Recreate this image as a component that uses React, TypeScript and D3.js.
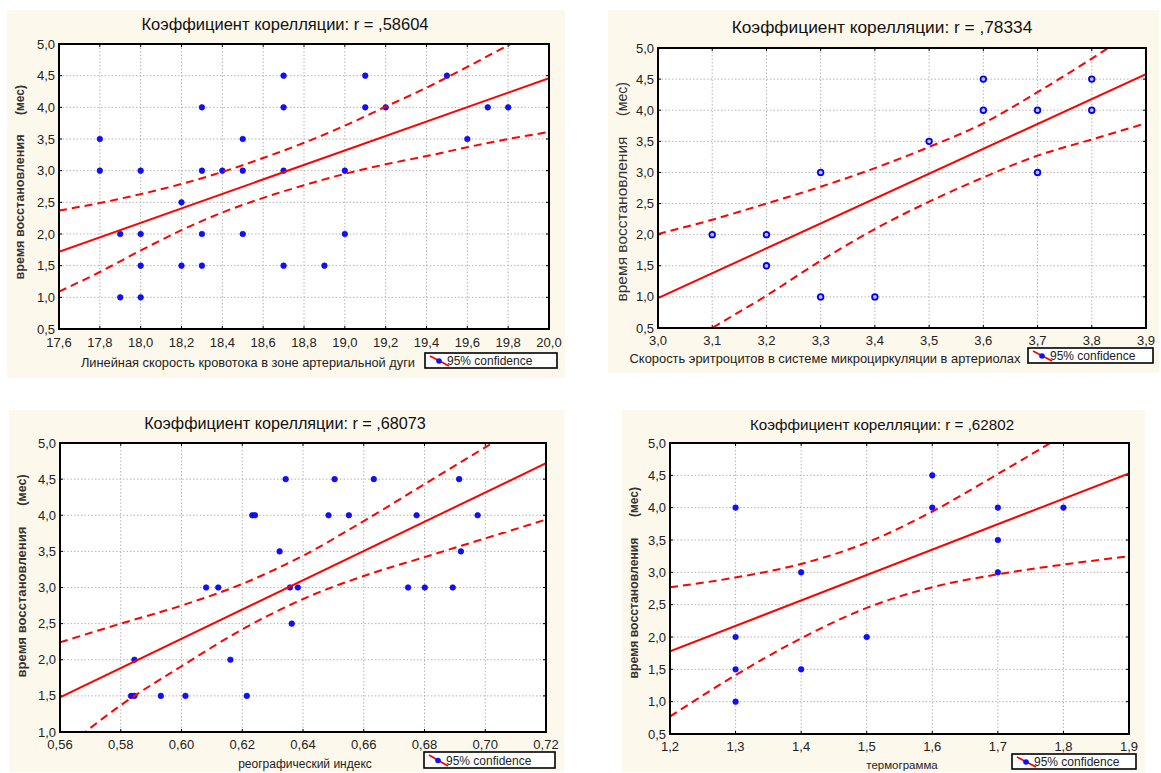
import { useEffect, useRef } from 'react';
import * as d3 from 'd3';

const yLabel = 'время восстановления';
const yUnit = '(мес)';
const legendText = '95% confidence';

// panel 1
const p1Title = 'Коэффициент корелляции: r = ,58604';
const p1XLabel = 'Линейная скорость кровотока в зоне артериальной дуги';
const p1XTicks = [17.6, 17.8, 18.0, 18.2, 18.4, 18.6, 18.8, 19.0, 19.2, 19.4, 19.6, 19.8, 20.0];
const p1YTicks = [0.5, 1.0, 1.5, 2.0, 2.5, 3.0, 3.5, 4.0, 4.5, 5.0];
const p1X = [17.8, 17.8, 17.9, 17.9, 18.0, 18.0, 18.0, 18.0, 18.2, 18.2, 18.3, 18.3, 18.3, 18.3, 18.4, 18.5,
  18.5, 18.5, 18.7, 18.7, 18.7, 18.7, 18.9, 19.0, 19.0, 19.1, 19.1, 19.2, 19.5, 19.6, 19.7, 19.8];
const p1Y = [3.5, 3.0, 2.0, 1.0, 3.0, 2.0, 1.5, 1.0, 2.5, 1.5, 4.0, 3.0, 2.0, 1.5, 3.0, 3.5,
  3.0, 2.0, 4.5, 4.0, 3.0, 1.5, 1.5, 3.0, 2.0, 4.5, 4.0, 4.0, 4.5, 3.5, 4.0, 4.0];
const p1Fit = [1.72, 4.46];
const p1Upper = [2.37, 2.49, 2.63, 2.79, 2.98, 3.20, 3.44, 3.71, 4.01, 4.31, 4.64, 4.98, 5.32];
const p1Lower = [1.09, 1.40, 1.74, 2.06, 2.34, 2.57, 2.77, 2.95, 3.10, 3.23, 3.37, 3.50, 3.61];

// panel 2
const p2Title = 'Коэффициент корелляции: r = ,78334';
const p2XLabel = 'Скорость эритроцитов в системе микроциркуляции в артериолах';
const p2XTicks = [3.0, 3.1, 3.2, 3.3, 3.4, 3.5, 3.6, 3.7, 3.8, 3.9];
const p2YTicks = [0.5, 1.0, 1.5, 2.0, 2.5, 3.0, 3.5, 4.0, 4.5, 5.0];
const p2X = [3.1, 3.2, 3.2, 3.3, 3.3, 3.4, 3.5, 3.6, 3.6, 3.7, 3.7, 3.8, 3.8];
const p2Y = [2.0, 2.0, 1.5, 3.0, 1.0, 1.0, 3.5, 4.5, 4.0, 4.0, 3.0, 4.5, 4.0];
const p2Fit = [0.98, 4.58];
const p2Upper = [2.01, 2.24, 2.50, 2.77, 3.07, 3.41, 3.79, 4.29, 4.83, 5.40];
const p2Lower = [-0.05, 0.50, 1.02, 1.58, 2.09, 2.53, 2.92, 3.27, 3.53, 3.79];

// panel 3
const p3Title = 'Коэффициент корелляции: r = ,68073';
const p3XLabel = 'реографический индекс';
const p3XTicks = [0.56, 0.58, 0.60, 0.62, 0.64, 0.66, 0.68, 0.70, 0.72];
const p3YTicks = [1.0, 1.5, 2.0, 2.5, 3.0, 3.5, 4.0, 4.5, 5.0];
const p3X = [0.5834, 0.5845, 0.5845, 0.5932, 0.6013, 0.6081, 0.6121, 0.6161, 0.6215, 0.6233, 0.6242, 0.6323,
  0.6343, 0.6357, 0.6363, 0.6383, 0.6484, 0.6504, 0.6551, 0.6633, 0.6746, 0.6774, 0.6801, 0.6893,
  0.6914, 0.6920, 0.6975];
const p3Y = [1.5, 1.5, 2.0, 1.5, 1.5, 3.0, 3.0, 2.0, 1.5, 4.0, 4.0, 3.5,
  4.5, 3.0, 2.5, 3.0, 4.0, 4.5, 4.0, 4.5, 3.0, 4.0, 3.0, 3.0,
  4.5, 3.5, 4.0];
const p3Fit = [1.48, 4.72];
const p3Upper = [2.24, 2.50, 2.75, 3.05, 3.44, 3.92, 4.43, 4.94, 5.45];
const p3Lower = [0.72, 1.37, 1.91, 2.42, 2.84, 3.16, 3.42, 3.68, 3.94];

// panel 4
const p4Title = 'Коэффициент корелляции: r = ,62802';
const p4XLabel = 'термограмма';
const p4XTicks = [1.2, 1.3, 1.4, 1.5, 1.6, 1.7, 1.8, 1.9];
const p4YTicks = [0.5, 1.0, 1.5, 2.0, 2.5, 3.0, 3.5, 4.0, 4.5, 5.0];
const p4X = [1.3, 1.3, 1.3, 1.3, 1.4, 1.4, 1.5, 1.6, 1.6, 1.7, 1.7, 1.7, 1.8];
const p4Y = [4.0, 2.0, 1.5, 1.0, 3.0, 1.5, 2.0, 4.5, 4.0, 4.0, 3.5, 3.0, 4.0];
const p4Fit = [1.78, 4.53];
const p4Upper = [2.77, 2.92, 3.13, 3.46, 3.94, 4.52, 5.12, 5.72];
const p4Lower = [0.77, 1.41, 1.98, 2.45, 2.77, 2.97, 3.12, 3.25];

const FONT = '"Liberation Sans", Arial, sans-serif';

const panels = [
  {
    id: 'p1', title: p1Title, xLabel: p1XLabel, xTicks: p1XTicks, yTicks: p1YTicks, xs: p1X, ys: p1Y,
    fit: p1Fit, upper: p1Upper, lower: p1Lower, xDigits: 1, ring: false,
    bg: [7, 10, 565, 378], frame: [59, 44, 549, 329],
    titleX: 285, titleY: 30, titleSize: 16.5,
    xLabX: 248, xLabY: 367, xLabSize: 12.8, tickOff: 18,
    yLabX: 20, yLabMid: 207, yLabLen: 145, yUnitMid: 100, yLabSize: 12, yLabBold: true,
    legend: [425, 353, 557, 368],
  },
  {
    id: 'p2', title: p2Title, xLabel: p2XLabel, xTicks: p2XTicks, yTicks: p2YTicks, xs: p2X, ys: p2Y,
    fit: p2Fit, upper: p2Upper, lower: p2Lower, xDigits: 1, ring: true,
    bg: [608, 10, 1159, 373], frame: [658, 48, 1146, 328],
    titleX: 882, titleY: 33, titleSize: 17.3,
    xLabX: 825, xLabY: 363, xLabSize: 12.9, tickOff: 17,
    yLabX: 622, yLabMid: 219, yLabLen: 165, yUnitMid: 99, yLabSize: 14, yLabBold: false,
    legend: [1028, 348, 1153, 363],
  },
  {
    id: 'p3', title: p3Title, xLabel: p3XLabel, xTicks: p3XTicks, yTicks: p3YTicks, xs: p3X, ys: p3Y,
    fit: p3Fit, upper: p3Upper, lower: p3Lower, xDigits: 2, ring: false,
    bg: [9, 410, 564, 772], frame: [60, 443, 546, 732],
    titleX: 285, titleY: 429, titleSize: 16.2,
    xLabX: 305, xLabY: 768, xLabSize: 12, tickOff: 17,
    yLabX: 22, yLabMid: 602, yLabLen: 151, yUnitMid: 490, yLabSize: 12.5, yLabBold: true,
    legend: [424, 752, 555, 768],
  },
  {
    id: 'p4', title: p4Title, xLabel: p4XLabel, xTicks: p4XTicks, yTicks: p4YTicks, xs: p4X, ys: p4Y,
    fit: p4Fit, upper: p4Upper, lower: p4Lower, xDigits: 1, ring: false,
    bg: [622, 410, 1145, 772], frame: [670, 443, 1129, 734],
    titleX: 882, titleY: 430, titleSize: 15.2,
    xLabX: 902, xLabY: 769, xLabSize: 11.5, tickOff: 17,
    yLabX: 634, yLabMid: 608, yLabLen: 141, yUnitMid: 502, yLabSize: 12, yLabBold: true,
    legend: [1012, 754, 1136, 769],
  },
];

function drawPanel(svg: any, c: any) {
  const g = svg.append('g');
  const [fx0, fy0, fx1, fy1] = c.frame;
  const fmtX = (v: number) => d3.format(`.${c.xDigits}f`)(v).replace('.', ',');
  const fmtY = (v: number) => d3.format('.1f')(v).replace('.', ',');

  g.append('rect')
    .attr('x', c.bg[0]).attr('y', c.bg[1])
    .attr('width', c.bg[2] - c.bg[0]).attr('height', c.bg[3] - c.bg[1])
    .attr('fill', '#fdf8ec');

  const x = d3.scaleLinear().domain(d3.extent(c.xTicks) as [number, number]).range([fx0, fx1]);
  const y = d3.scaleLinear().domain(d3.extent(c.yTicks) as [number, number]).range([fy1, fy0]);

  g.append('rect')
    .attr('x', fx0).attr('y', fy0).attr('width', fx1 - fx0).attr('height', fy1 - fy0)
    .attr('fill', '#fff');

  // grid
  const inner = (arr: number[]) => arr.slice(1, -1);
  g.selectAll('.gx').data(inner(c.xTicks)).enter().append('line')
    .attr('x1', (d: number) => x(d)).attr('x2', (d: number) => x(d))
    .attr('y1', fy0).attr('y2', fy1)
    .attr('stroke', '#b4b4b4').attr('stroke-dasharray', '1.5,2');
  g.selectAll('.gy').data(inner(c.yTicks)).enter().append('line')
    .attr('y1', (d: number) => y(d)).attr('y2', (d: number) => y(d))
    .attr('x1', fx0).attr('x2', fx1)
    .attr('stroke', '#b4b4b4').attr('stroke-dasharray', '1.5,2');

  // inner tick marks
  const tk = 3;
  c.xTicks.forEach((t: number) => {
    g.append('line').attr('x1', x(t)).attr('x2', x(t)).attr('y1', fy1).attr('y2', fy1 - tk).attr('stroke', '#000');
    g.append('line').attr('x1', x(t)).attr('x2', x(t)).attr('y1', fy0).attr('y2', fy0 + tk).attr('stroke', '#000');
  });
  c.yTicks.forEach((t: number) => {
    g.append('line').attr('y1', y(t)).attr('y2', y(t)).attr('x1', fx0).attr('x2', fx0 + tk).attr('stroke', '#000');
    g.append('line').attr('y1', y(t)).attr('y2', y(t)).attr('x1', fx1).attr('x2', fx1 - tk).attr('stroke', '#000');
  });

  // clip
  const clipId = `clip-${c.id}`;
  g.append('clipPath').attr('id', clipId).append('rect')
    .attr('x', fx0).attr('y', fy0).attr('width', fx1 - fx0).attr('height', fy1 - fy0);
  const plot = g.append('g').attr('clip-path', `url(#${clipId})`);

  // points
  const pts = c.xs.map((v: number, i: number) => [v, c.ys[i]]);
  plot.selectAll('circle').data(pts).enter().append('circle')
    .attr('cx', (d: number[]) => x(d[0])).attr('cy', (d: number[]) => y(d[1]))
    .attr('r', 2.8)
    .attr('fill', c.ring ? '#b8bcff' : '#1010ff')
    .attr('stroke', '#0000ee').attr('stroke-width', c.ring ? 1.8 : 0.6);

  // confidence bands
  const line = d3.line<number>()
    .x((_d, i) => x(c.xTicks[i]))
    .y((d) => y(d))
    .curve(d3.curveMonotoneX);
  [c.upper, c.lower].forEach((band: number[]) => {
    plot.append('path').attr('d', line(band))
      .attr('fill', 'none').attr('stroke', '#ff0000').attr('stroke-width', 2)
      .attr('stroke-dasharray', '8,5');
  });

  // fit line
  const xd = x.domain();
  plot.append('line')
    .attr('x1', x(xd[0])).attr('y1', y(c.fit[0]))
    .attr('x2', x(xd[1])).attr('y2', y(c.fit[1]))
    .attr('stroke', '#ff0000').attr('stroke-width', 2);

  // frame
  g.append('rect')
    .attr('x', fx0).attr('y', fy0).attr('width', fx1 - fx0).attr('height', fy1 - fy0)
    .attr('fill', 'none').attr('stroke', '#000').attr('stroke-width', 2);

  // tick labels
  g.selectAll('.xl').data(c.xTicks).enter().append('text')
    .attr('x', (d: number) => x(d)).attr('y', fy1 + c.tickOff)
    .attr('text-anchor', 'middle').attr('font-family', FONT).attr('font-size', 13)
    .attr('fill', '#222').text((d: number) => fmtX(d));
  g.selectAll('.yl').data(c.yTicks).enter().append('text')
    .attr('x', fx0 - 4).attr('y', (d: number) => y(d) + 4.5)
    .attr('text-anchor', 'end').attr('font-family', FONT).attr('font-size', 13)
    .attr('fill', '#222').text((d: number) => fmtY(d));

  // title
  g.append('text').attr('x', c.titleX).attr('y', c.titleY)
    .attr('text-anchor', 'middle').attr('font-family', FONT).attr('font-size', c.titleSize)
    .attr('fill', '#111').text(c.title);

  // x label
  g.append('text').attr('x', c.xLabX).attr('y', c.xLabY)
    .attr('text-anchor', 'middle').attr('font-family', FONT).attr('font-size', c.xLabSize)
    .attr('fill', '#222').text(c.xLabel);

  // y label
  const yl = (txt: string, mid: number, len?: number) => {
    const t = g.append('text')
      .attr('transform', `translate(${c.yLabX},${mid}) rotate(-90)`)
      .attr('text-anchor', 'middle').attr('dominant-baseline', 'central')
      .attr('font-family', FONT).attr('font-size', c.yLabSize)
      .attr('font-weight', c.yLabBold ? 'bold' : 'normal')
      .attr('fill', '#333').text(txt);
    if (len) t.attr('textLength', len).attr('lengthAdjust', 'spacingAndGlyphs');
  };
  yl(yLabel, c.yLabMid, c.yLabLen);
  yl(yUnit, c.yUnitMid);

  // legend
  const [lx0, ly0, lx1, ly1] = c.legend;
  g.append('rect').attr('x', lx0).attr('y', ly0).attr('width', lx1 - lx0).attr('height', ly1 - ly0)
    .attr('fill', '#fff').attr('stroke', '#000').attr('stroke-width', 1.6);
  g.append('line').attr('x1', lx0 + 5).attr('y1', ly0 + 3).attr('x2', lx0 + 24).attr('y2', ly1 - 2)
    .attr('stroke', '#ff0000').attr('stroke-width', 1.8);
  g.append('circle').attr('cx', lx0 + 14).attr('cy', (ly0 + ly1) / 2 + 0.5).attr('r', 2.8)
    .attr('fill', '#1010ff');
  g.append('text').attr('x', lx0 + 22).attr('y', ly1 - 3.5)
    .attr('font-family', FONT).attr('font-size', 12).attr('fill', '#222').text(legendText);
}

export default function App() {
  const svgRef = useRef<SVGSVGElement>(null);

  useEffect(() => {
    const svg = d3.select(svgRef.current);
    svg.selectAll('*').remove();
    panels.forEach((p) => drawPanel(svg, p));
  }, []);

  return (
    <svg
      ref={svgRef}
      width={1161}
      height={773}
      style={{ position: 'absolute', left: 0, top: 0, background: '#fff', display: 'block' }}
    />
  );
}
